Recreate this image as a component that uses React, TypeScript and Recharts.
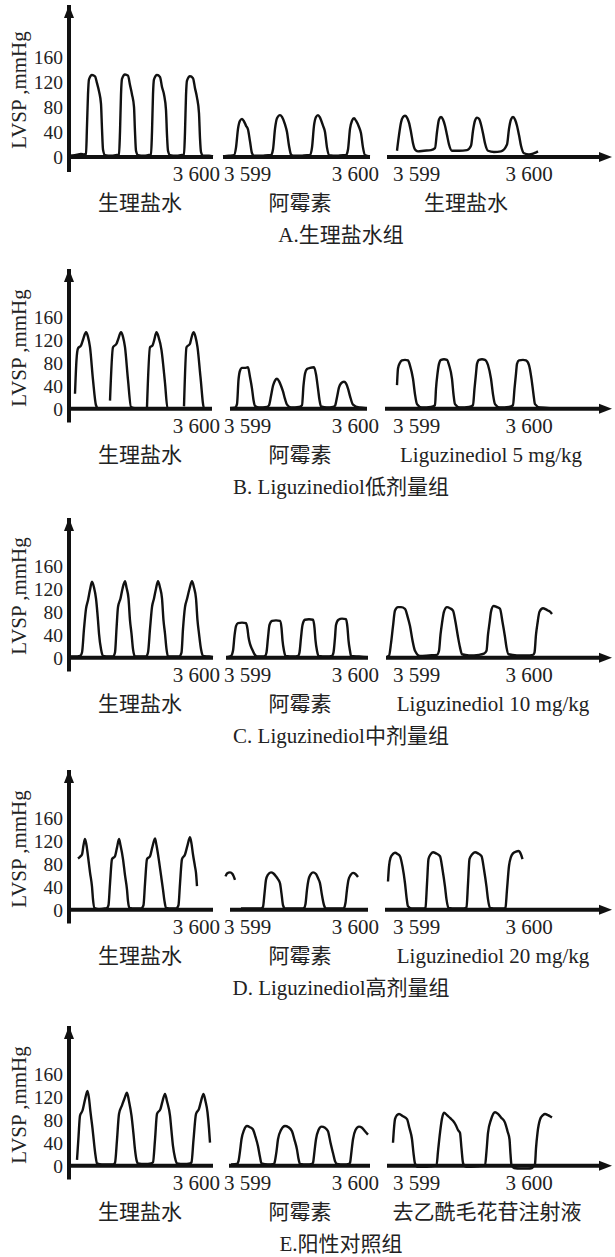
import { LineChart, Line, XAxis, YAxis, ReferenceLine, ReferenceDot } from 'recharts';

type Pt = [number, number | null];

const SERIF = '"Liberation Serif", "Noto Sans CJK SC", serif';
const INK = '#111';

// time axis (arbitrary units along the recording strip) and pressure ticks
const yTicks = [0, 40, 80, 120, 160];
const tickPos = [151, 155, 310, 324, 460];
const tickLabels = ['3 600', '3 599', '3 600', '3 599', '3 600'];
const tickAnchor = ['end', 'start', 'end', 'start', 'middle'];

const panelTitles = [
  'A.生理盐水组',
  'B. Liguzinediol低剂量组',
  'C. Liguzinediol中剂量组',
  'D. Liguzinediol高剂量组',
  'E.阳性对照组',
];

const groupLabels = [
  ['生理盐水', '阿霉素', '生理盐水'],
  ['生理盐水', '阿霉素', 'Liguzinediol 5 mg/kg'],
  ['生理盐水', '阿霉素', 'Liguzinediol 10 mg/kg'],
  ['生理盐水', '阿霉素', 'Liguzinediol 20 mg/kg'],
  ['生理盐水', '阿霉素', '去乙酰毛花苷注射液'],
];

// strip extents [start, end] for the three recordings of each panel
const stripsA = [[0, 144], [154, 301], [318, 533]];
const stripsB = [[0, 143], [161, 298], [316, 533]];
const stripsC = [[0, 144], [157, 299], [317, 533]];
const stripsD = [[0, 144], [161, 299], [316, 533]];
const stripsE = [[0, 144], [160, 301], [318, 533]];

// LVSP traces, [t, mmHg]
const a1: Pt[] = [
  [0, 2], [6, 3], [12, 5], [15, 4],
  [17, 5], [18, 50], [19, 100], [20, 124], [23, 131], [26, 129], [28, 118], [30, 105], [32, 85], [33, 45], [34, 12], [36, 3],
  [42, 2], [47, 3],
  [50, 4], [51, 40], [52, 100], [53, 125], [56, 132], [59, 130], [61, 115], [63, 100], [65, 80], [66, 40], [67, 10], [69, 3],
  [75, 2], [79, 3],
  [82, 4], [83, 40], [84, 100], [85, 124], [88, 131], [91, 128], [93, 112], [95, 100], [97, 75], [98, 35], [99, 10], [101, 3],
  [107, 2], [112, 3],
  [115, 4], [116, 40], [117, 98], [118, 122], [121, 129], [124, 126], [126, 110], [128, 95], [130, 70], [131, 30], [132, 8], [134, 2],
  [140, 2], [144, 1],
];
const a2: Pt[] = [
  [154, 1], [160, 2],
  [165, 3], [167, 15], [169, 45], [171, 58], [173, 61], [175, 57], [177, 50], [179, 44], [181, 25], [183, 6], [185, 2],
  [193, 2], [199, 3],
  [202, 3], [204, 12], [206, 45], [208, 62], [211, 67], [213, 64], [216, 52], [218, 40], [220, 18], [222, 4], [224, 2],
  [232, 2], [238, 3],
  [241, 3], [243, 15], [245, 50], [247, 64], [249, 67], [251, 63], [254, 50], [256, 40], [258, 15], [260, 3],
  [268, 2], [274, 3],
  [277, 3], [279, 12], [281, 45], [283, 58], [285, 62], [287, 58], [290, 48], [292, 38], [294, 15], [296, 3], [301, 1],
];
const a3: Pt[] = [
  [328, 10], [330, 35], [332, 55], [334, 64], [336, 66], [338, 63], [340, 55], [342, 40], [344, 22], [346, 12], [349, 9], [355, 10], [362, 11],
  [366, 14], [368, 40], [370, 60], [372, 64], [374, 60], [376, 50], [378, 35], [380, 20], [383, 10], [390, 10], [398, 11],
  [402, 18], [404, 42], [406, 58], [408, 63], [410, 61], [412, 52], [414, 38], [416, 22], [419, 10], [425, 8], [432, 9],
  [438, 20], [440, 45], [442, 60], [444, 64], [446, 60], [448, 50], [450, 35], [452, 18], [455, 6], [460, 4], [465, 6], [469, 9],
];

const b1: Pt[] = [
  [6, 26], [7.5, 85], [9, 105], [12, 110], [14, 120], [17, 133], [19, 125], [21, 107], [24, 50], [27, 6], [29, 1], [38, 1], [39, null],
  [41, 14], [44, 107], [47.5, 113], [49, 120], [52, 133], [54, 125], [56, 107], [59, 50], [62, 3], [66, 1], [75, 1], [76, null],
  [78, 3], [81, 107], [83.5, 110], [85, 118], [87.5, 133], [89.5, 125], [92.5, 102], [96, 45], [98.5, 1], [107, 1], [113, null],
  [115, 4], [117.5, 107], [121, 113], [122, 120], [124.5, 133], [126.5, 125], [128.5, 107], [131.5, 55], [135, 1], [142, 1],
];
const b2: Pt[] = [
  [161, 1], [166, 2], [168, 8], [169.5, 50], [171, 66], [173, 71], [176, 71], [179, 72], [181, 55], [183, 35], [184.5, 15], [186, 5], [190, 2], [198, 3],
  [200, 6], [202, 22], [204, 40], [206, 49], [208, 52], [210, 48], [212, 40], [214, 30], [216, 17], [218, 7], [222, 2], [230, 3],
  [233, 6], [234.5, 40], [236, 61], [238, 69], [241, 71], [245, 72], [247, 60], [249, 35], [250.5, 15], [252, 4], [258, 2], [264, 3],
  [266, 5], [268, 20], [270, 37], [272, 44], [275, 47], [277, 44], [279, 35], [281, 22], [284, 7], [290, 2], [297, 1],
];
const b3: Pt[] = [
  [328, 41], [329, 70], [331, 80], [333, 84], [336, 85], [339, 84], [341, 75], [344, 52], [346, 25], [348, 8], [353, 2], [362, 3],
  [366, 6], [367, 35], [368.5, 61], [370, 78], [372, 85], [375, 86], [378, 85], [380, 76], [383, 52], [384.5, 25], [386, 8], [391, 2], [400, 3],
  [404, 6], [405.5, 35], [407, 61], [408, 78], [410, 85], [413, 86], [416, 85], [419, 76], [422, 52], [424, 25], [426, 8], [431, 2], [440, 3],
  [444, 6], [445.5, 35], [447, 61], [448, 78], [450, 84], [454, 85], [457, 84], [460, 76], [462.5, 52], [464.5, 25], [466, 8], [471, 2], [481, 1],
];

const c1: Pt[] = [
  [0, 2], [6, 2], [11, 3],
  [13, 9], [15, 50], [17, 85], [19, 100], [21, 118], [23, 132], [25, 122], [27, 103], [29, 65], [30, 42], [32, 15], [34, 3], [40, 2],
  [44, 2], [46, 9], [47.5, 50], [49, 88], [51.5, 103], [53.5, 120], [56, 133], [57.5, 122], [59.5, 103], [61, 65], [62.5, 42], [64, 15], [66, 2], [73, 2],
  [77, 2], [79, 9], [81, 50], [83, 88], [85, 103], [87, 120], [89, 133], [91, 122], [93, 103], [94.5, 65], [96, 42], [97.5, 15], [99, 2], [107, 2],
  [110, 2], [112.5, 9], [114, 50], [116, 88], [118, 102], [120.5, 120], [123, 133], [125, 122], [127, 103], [128.5, 65], [130, 42], [132, 15], [134, 3], [140, 2], [144, 1],
];
const c2: Pt[] = [
  [158, 1], [162, 3],
  [164, 12], [165.5, 38], [167, 55], [169, 60], [173, 61], [177, 60], [178.5, 50], [179.5, 36], [181, 24], [183, 15], [185.5, 6], [188, 2], [194, 2],
  [196, 3], [197.5, 9], [199, 35], [200.5, 57], [203, 64], [207, 65], [211, 64], [212.5, 52], [213.5, 30], [215, 12], [216.5, 3], [225, 2],
  [229, 3], [230.5, 9], [232, 35], [233.5, 57], [236, 66], [240, 67], [244, 66], [245.5, 52], [246.5, 30], [248, 12], [249.5, 3], [258, 2],
  [263, 3], [264.5, 9], [266, 35], [267, 57], [269.5, 66], [273, 68], [277, 67], [278.5, 52], [279.5, 30], [281, 12], [282, 3], [290, 2], [298, 1],
];
const c3: Pt[] = [
  [318, 2], [320, 3], [322, 25], [324, 55], [326, 82], [329, 88], [332, 88], [336, 85], [338.5, 72], [341, 55], [343.5, 30], [346, 12], [351, 3], [360, 4], [368, 5],
  [370, 12], [371.5, 40], [373, 60], [375, 80], [378, 88], [381, 86], [384, 82], [386.5, 62], [389, 36], [391, 18], [393, 6], [400, 4], [410, 5], [415, 7],
  [417.5, 12], [419, 40], [420.5, 60], [422, 80], [424.5, 90], [428, 88], [431, 85], [433.5, 62], [436, 36], [437.5, 18], [439.5, 6], [448, 4], [458, 4], [464, 5],
  [465.5, 9], [467, 40], [468.5, 60], [470.5, 80], [474, 86], [477, 84], [479, 82], [481, 80], [483, 76],
];

const d1: Pt[] = [
  [9, 89], [11, 92], [13, 96], [14.5, 112], [16, 123], [17.5, 112], [19, 93], [21, 65], [23, 40], [24, 18], [25.5, 3], [30, 1], [36, 2],
  [38, 3], [39.5, 8], [41, 45], [43, 88], [46, 93], [48, 108], [50, 123], [51.5, 112], [54, 88], [56, 60], [58, 35], [59, 15], [60.5, 3], [66, 2], [72, 2],
  [73, 3], [74.5, 8], [76, 45], [78, 88], [81, 93], [83.5, 110], [86, 124], [87.5, 112], [90, 85], [92, 60], [94, 35], [95.5, 15], [97, 3], [103, 2], [107, 2],
  [108, 3], [109.5, 8], [111, 45], [113, 88], [116, 96], [118.5, 112], [121, 126], [122.5, 115], [124, 96], [126, 75], [127, 64], [128, 41],
];
const d2: Pt[] = [
  [156.5, 58], [158, 63], [161, 65], [163.5, 62], [166, 52], [167, null],
  [172, 2], [180, 2], [188, 2],
  [192, 2], [194, 5], [195.5, 28], [197, 52], [199, 61], [202, 65], [204.5, 63], [207, 58], [209, 53], [211, 46], [212.5, 28], [214, 8], [216, 2], [225, 2], [233, 2],
  [235, 3], [236.5, 10], [238, 35], [239.5, 52], [241.5, 61], [244, 65], [247, 62], [249, 55], [251, 46], [253, 25], [255, 8], [257, 2], [266, 2], [274, 2],
  [275, 3], [276.5, 12], [278, 35], [279.5, 52], [281.5, 60], [284, 64], [286.5, 62], [289, 57],
];
const d3: Pt[] = [
  [319, 49], [320, 75], [321.5, 90], [324, 97], [326, 99], [328.5, 97], [331, 93], [333.5, 75], [336, 46], [337.5, 22], [339, 6], [343, 2], [350, 2], [355, 2],
  [356.5, 4], [358, 45], [359.5, 88], [361.5, 96], [364, 100], [367, 98], [371, 93], [373.5, 70], [376, 40], [377.5, 18], [379.5, 3], [387, 2], [395, 2],
  [397.5, 4], [399, 45], [400.5, 88], [403, 96], [406, 100], [409, 98], [412.5, 93], [415, 70], [417.5, 40], [419, 18], [421, 3], [428, 2], [435, 2],
  [436.5, 4], [438, 35], [440, 76], [442, 92], [444, 98], [447, 101], [449.5, 102], [452, 96], [453.5, 88],
];

const e1: Pt[] = [
  [8, 10], [9.5, 50], [11, 87], [13.5, 96], [16, 115], [18.5, 130], [20, 117], [21.5, 93], [23.5, 65], [25, 40], [26.5, 18], [28, 4], [33, 2], [40, 2],
  [44, 2], [46, 5], [48, 45], [50, 90], [53, 105], [55.5, 117], [58, 127], [60, 112], [62.5, 87], [64.5, 55], [66, 28], [67.5, 10], [69, 4], [76, 3], [82, 4],
  [84, 6], [86, 45], [88, 90], [91.5, 99], [93.5, 112], [96, 125], [98, 112], [101, 87], [102.5, 60], [104, 34], [106, 14], [108, 4], [115, 3], [121, 4],
  [122.5, 6], [124.5, 45], [127, 90], [130, 99], [132, 112], [134.5, 125], [136.5, 112], [138.5, 93], [140, 65], [141, 40],
];
const e2: Pt[] = [
  [162, 2], [168, 3],
  [169.5, 8], [171, 25], [172.5, 46], [175, 62], [178, 69], [181, 67], [184, 63], [186.5, 50], [189, 34], [191, 15], [192.5, 4], [199, 2], [205, 3],
  [205.5, 5], [207.5, 25], [209, 46], [212, 62], [216, 69], [219.5, 67], [223, 60], [225.5, 45], [228, 28], [229.5, 12], [231, 3], [238, 2], [243, 3],
  [244, 5], [245.5, 25], [247, 46], [249.5, 62], [252.5, 68], [256, 66], [259, 60], [261.5, 40], [264, 22], [266, 8], [268, 3], [275, 2], [280, 3],
  [281, 5], [282.5, 25], [284, 46], [286.5, 62], [290, 68], [293, 66], [296, 60], [299, 54],
];
const e3: Pt[] = [
  [324, 40], [325, 65], [326, 81], [328, 88], [330, 90], [334, 86], [338, 81], [340.5, 65], [343, 46], [344.5, 22], [346, 4], [349, -2], [355, -2], [362, -1], [366, 0],
  [367.5, 0], [369, 25], [371, 57], [373, 82], [375, 92], [378, 88], [381, 83], [384, 78], [387, 70], [389, 62], [391, 57], [392.5, 30], [394, 5], [396, -1], [399, -2], [408, -1], [415, 0],
  [416, 0], [417.5, 25], [419, 57], [422, 80], [426, 93], [429, 90], [432, 84], [436, 75], [438.5, 60], [440.5, 46], [441.5, 20], [442.5, 1], [445, -4], [452, -5], [459, -5], [463, -4], [465, 0],
  [466, 3], [467, 30], [468.5, 57], [471, 80], [474, 88], [476, 90], [479, 88], [481, 86], [483, 84],
];

const panels = [
  { zero: 157, plotH: 167, traces: [a1, a2, a3], strips: stripsA, groupX: [140, 300, 466] },
  { zero: 409, plotH: 153.5, traces: [b1, b2, b3], strips: stripsB, groupX: [140, 300, 491] },
  { zero: 657.5, plotH: 153.5, traces: [c1, c2, c3], strips: stripsC, groupX: [140, 300, 493] },
  { zero: 910, plotH: 153.5, traces: [d1, d2, d3], strips: stripsD, groupX: [140, 300, 493] },
  { zero: 1166, plotH: 153.5, traces: [e1, e2, e3], strips: stripsE, groupX: [140, 300, 487] },
];

const Y_MIN = -24;
const Y_MAX = 243;

const toRows = (pts: Pt[]) => pts.map(([t, v]) => ({ t, v }));

function Panel({ idx }: { idx: number }) {
  const p = panels[idx];
  const scale = p.plotH / (Y_MAX - Y_MIN);
  const plotTop = p.zero - Y_MAX * scale;
  const plotBottom = p.zero - Y_MIN * scale;
  const tickDy = p.zero + 17 - plotBottom;

  const XTick = (props: any) => {
    const i = tickPos.indexOf(props.payload.value);
    return (
      <text
        x={props.x}
        y={props.y + tickDy}
        textAnchor={tickAnchor[i]}
        dominantBaseline="central"
        fontSize={21}
        fontFamily={SERIF}
        fill="#222"
      >
        {tickLabels[i]}
      </text>
    );
  };

  const textStyle: React.CSSProperties = {
    position: 'absolute',
    transform: 'translate(-50%, -50%)',
    whiteSpace: 'nowrap',
    fontFamily: SERIF,
    fontSize: 21,
    lineHeight: 1,
    color: '#222',
  };

  return (
    <>
      <div style={{ position: 'absolute', left: 0, top: plotTop - 5 }}>
        <LineChart width={615} height={5 + p.plotH + 30} margin={{ top: 5, right: 3, bottom: 0, left: 0 }}>
          <XAxis
            type="number"
            dataKey="t"
            domain={[0, 543]}
            ticks={tickPos}
            interval={0}
            axisLine={false}
            tickLine={false}
            tickSize={0}
            tickMargin={0}
            height={30}
            tick={<XTick />}
            allowDataOverflow
          />
          <YAxis
            type="number"
            domain={[Y_MIN, Y_MAX]}
            ticks={yTicks}
            interval={0}
            width={69}
            axisLine={{ stroke: INK, strokeWidth: 4 }}
            tickLine={false}
            tickSize={4}
            tickMargin={2}
            tick={{ fontSize: 19.5, fill: '#222', fontFamily: SERIF }}
            allowDataOverflow
          />
          {p.strips.map(([s, e], i) => (
            <ReferenceLine
              key={'s' + i}
              segment={[{ x: s, y: 0 }, { x: e, y: 0 }]}
              stroke={INK}
              strokeWidth={4}
              ifOverflow="visible"
            />
          ))}
          {p.traces.map((tr, i) => (
            <Line
              key={'l' + i}
              data={toRows(tr)}
              dataKey="v"
              type="monotone"
              stroke={INK}
              strokeWidth={2.4}
              dot={false}
              activeDot={false}
              connectNulls={false}
              isAnimationActive={false}
            />
          ))}
          <ReferenceDot
            x={0}
            y={Y_MAX}
            ifOverflow="visible"
            shape={(d: any) => (
              <path d={`M${d.cx},${d.cy} L${d.cx - 5},${d.cy + 13} L${d.cx + 5},${d.cy + 13} Z`} fill={INK} />
            )}
          />
          <ReferenceDot
            x={543}
            y={0}
            ifOverflow="visible"
            shape={(d: any) => (
              <path d={`M${d.cx},${d.cy} L${d.cx - 13},${d.cy - 5} L${d.cx - 13},${d.cy + 5} Z`} fill={INK} />
            )}
          />
        </LineChart>
      </div>
      <div style={{ ...textStyle, left: 19, top: p.zero - p.plotH * 0.4, transform: 'translate(-50%, -50%) rotate(-90deg)' }}>
        LVSP ,mmHg
      </div>
      {groupLabels[idx].map((g, i) => (
        <div key={'g' + i} style={{ ...textStyle, left: p.groupX[i], top: p.zero + 46 }}>
          {g}
        </div>
      ))}
      <div style={{ ...textStyle, left: 341, top: p.zero + 78 }}>{panelTitles[idx]}</div>
    </>
  );
}

export default function App() {
  return (
    <div style={{ position: 'absolute', left: 0, top: 0, width: 615, height: 1257, background: '#fff', overflow: 'hidden' }}>
      {panels.map((_, i) => (
        <Panel key={i} idx={i} />
      ))}
    </div>
  );
}
